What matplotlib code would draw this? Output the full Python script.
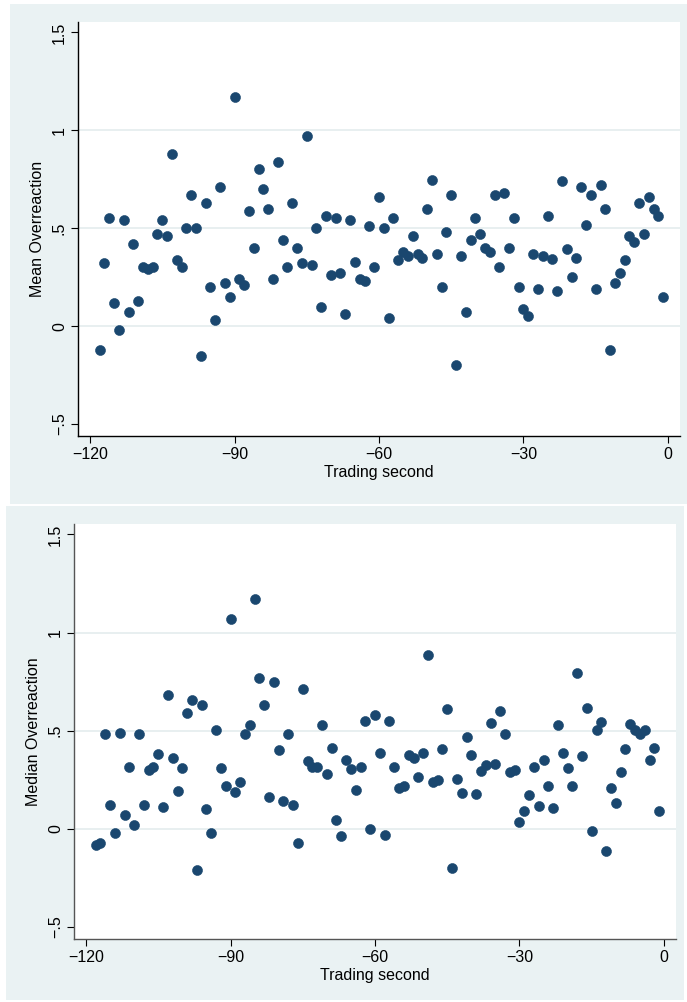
import matplotlib
matplotlib.use("Agg")
import matplotlib.pyplot as plt
from matplotlib.patches import Rectangle

plt.rcParams['font.family'] = ['Liberation Sans', 'DejaVu Sans']

seconds = list(range(-118, 0))

mean_overreaction = [
    -0.12, 0.32, 0.55, 0.12, -0.02, 0.54, 0.07, 0.42, 0.13, 0.30,
    0.29, 0.30, 0.47, 0.54, 0.46, 0.88, 0.34, 0.30, 0.50, 0.67,
    0.50, -0.15, 0.63, 0.20, 0.03, 0.71, 0.22, 0.15, 1.17, 0.24,
    0.21, 0.59, 0.40, 0.80, 0.70, 0.60, 0.24, 0.84, 0.44, 0.30,
    0.63, 0.40, 0.32, 0.97, 0.31, 0.50, 0.10, 0.56, 0.26, 0.55,
    0.27, 0.06, 0.54, 0.33, 0.24, 0.23, 0.51, 0.30, 0.66, 0.50,
    0.04, 0.55, 0.34, 0.38, 0.36, 0.46, 0.37, 0.35, 0.60, 0.745,
    0.37, 0.20, 0.48, 0.67, -0.20, 0.36, 0.07, 0.44, 0.55, 0.47,
    0.40, 0.38, 0.67, 0.30, 0.68, 0.40, 0.55, 0.20, 0.09, 0.05,
    0.37, 0.19, 0.36, 0.56, 0.345, 0.18, 0.74, 0.395, 0.25, 0.35,
    0.71, 0.515, 0.67, 0.19, 0.72, 0.60, -0.12, 0.22, 0.27, 0.34,
    0.46, 0.43, 0.63, 0.47, 0.66, 0.60, 0.56, 0.15,
]

median_overreaction = [
    -0.08, -0.07, 0.485, 0.12, -0.02, 0.49, 0.07, 0.315, 0.02, 0.485,
    0.12, 0.30, 0.315, 0.38, 0.11, 0.68, 0.36, 0.195, 0.31, 0.59,
    0.655, -0.21, 0.63, 0.10, -0.02, 0.505, 0.31, 0.216, 1.07, 0.19,
    0.238, 0.485, 0.527, 1.17, 0.77, 0.63, 0.16, 0.746, 0.40, 0.14,
    0.485, 0.12, -0.07, 0.71, 0.347, 0.313, 0.313, 0.53, 0.277, 0.413,
    0.044, -0.036, 0.352, 0.306, 0.199, 0.315, 0.551, 0.0, 0.578, 0.389,
    -0.029, 0.551, 0.313, 0.209, 0.219, 0.376, 0.362, 0.265, 0.389, 0.884,
    0.241, 0.25, 0.408, 0.609, -0.199, 0.255, 0.185, 0.466, 0.378, 0.179,
    0.296, 0.325, 0.539, 0.328, 0.60, 0.483, 0.289, 0.301, 0.037, 0.093,
    0.173, 0.313, 0.117, 0.352, 0.219, 0.105, 0.527, 0.386, 0.31, 0.216,
    0.792, 0.371, 0.617, -0.012, 0.503, 0.542, -0.114, 0.207, 0.131, 0.292,
    0.405, 0.532, 0.502, 0.485, 0.502, 0.352, 0.413, 0.093,
]

x_ticks = [-120, -90, -60, -30, 0]
x_tick_labels = ["\u2212120", "\u221290", "\u221260", "\u221230", "0"]
y_ticks = [-0.5, 0, 0.5, 1, 1.5]
y_tick_labels = ["\u2212.5", "0", ".5", "1", "1.5"]

W, H = 687, 1002
fig = plt.figure(figsize=(W / 100, H / 100), dpi=100)
fig.patch.set_facecolor("white")

BG = "#eaf2f3"
MARK = "#1a476f"
GRID = "#e4ecee"


def rect_px(x0, y0, x1, y1):
    return (x0 / W, 1 - y1 / H, (x1 - x0) / W, (y1 - y0) / H)


for (x0, y0, x1, y1) in [(10, 4, 687, 504), (6, 506, 684, 1000)]:
    l, b, w, h = rect_px(x0, y0, x1, y1)
    fig.patches.append(Rectangle((l, b), w, h, transform=fig.transFigure,
                                 facecolor=BG, edgecolor="none", zorder=-10))

panels = [
    (rect_px(78, 22, 680, 436), mean_overreaction, "Mean Overreaction", "black"),
    (rect_px(74, 524, 676, 939), median_overreaction, "Median Overreaction", "#555555"),
]

for pos, vals, ylab, spcol in panels:
    ax = fig.add_axes(pos, zorder=5)
    ax.set_facecolor("white")
    ax.scatter(seconds, vals, s=52, color=MARK, edgecolors=MARK, linewidths=0.4, zorder=3)
    ax.set_xlim(-122.5, 2.5)
    ax.set_ylim(-0.561, 1.553)
    for gy in [0, 0.5, 1]:
        ax.axhline(gy, color=GRID, lw=1.2, zorder=1)
    ax.set_xticks(x_ticks)
    ax.set_xticklabels(x_tick_labels)
    ax.set_yticks(y_ticks)
    ax.set_yticklabels(y_tick_labels, rotation=90, va="center")
    ax.tick_params(axis="both", direction="out", length=5, width=0.8,
                   labelsize=11.5, colors="black", pad=3)
    for s in ["top", "right"]:
        ax.spines[s].set_visible(False)
    for s in ["left", "bottom"]:
        ax.spines[s].set_color(spcol)
        ax.spines[s].set_linewidth(1.0)
    ax.set_xlabel("Trading second", fontsize=11.5, labelpad=2)
    ax.set_ylabel(ylab, fontsize=11.5, labelpad=5)

fig.savefig("out.png", dpi=100)
